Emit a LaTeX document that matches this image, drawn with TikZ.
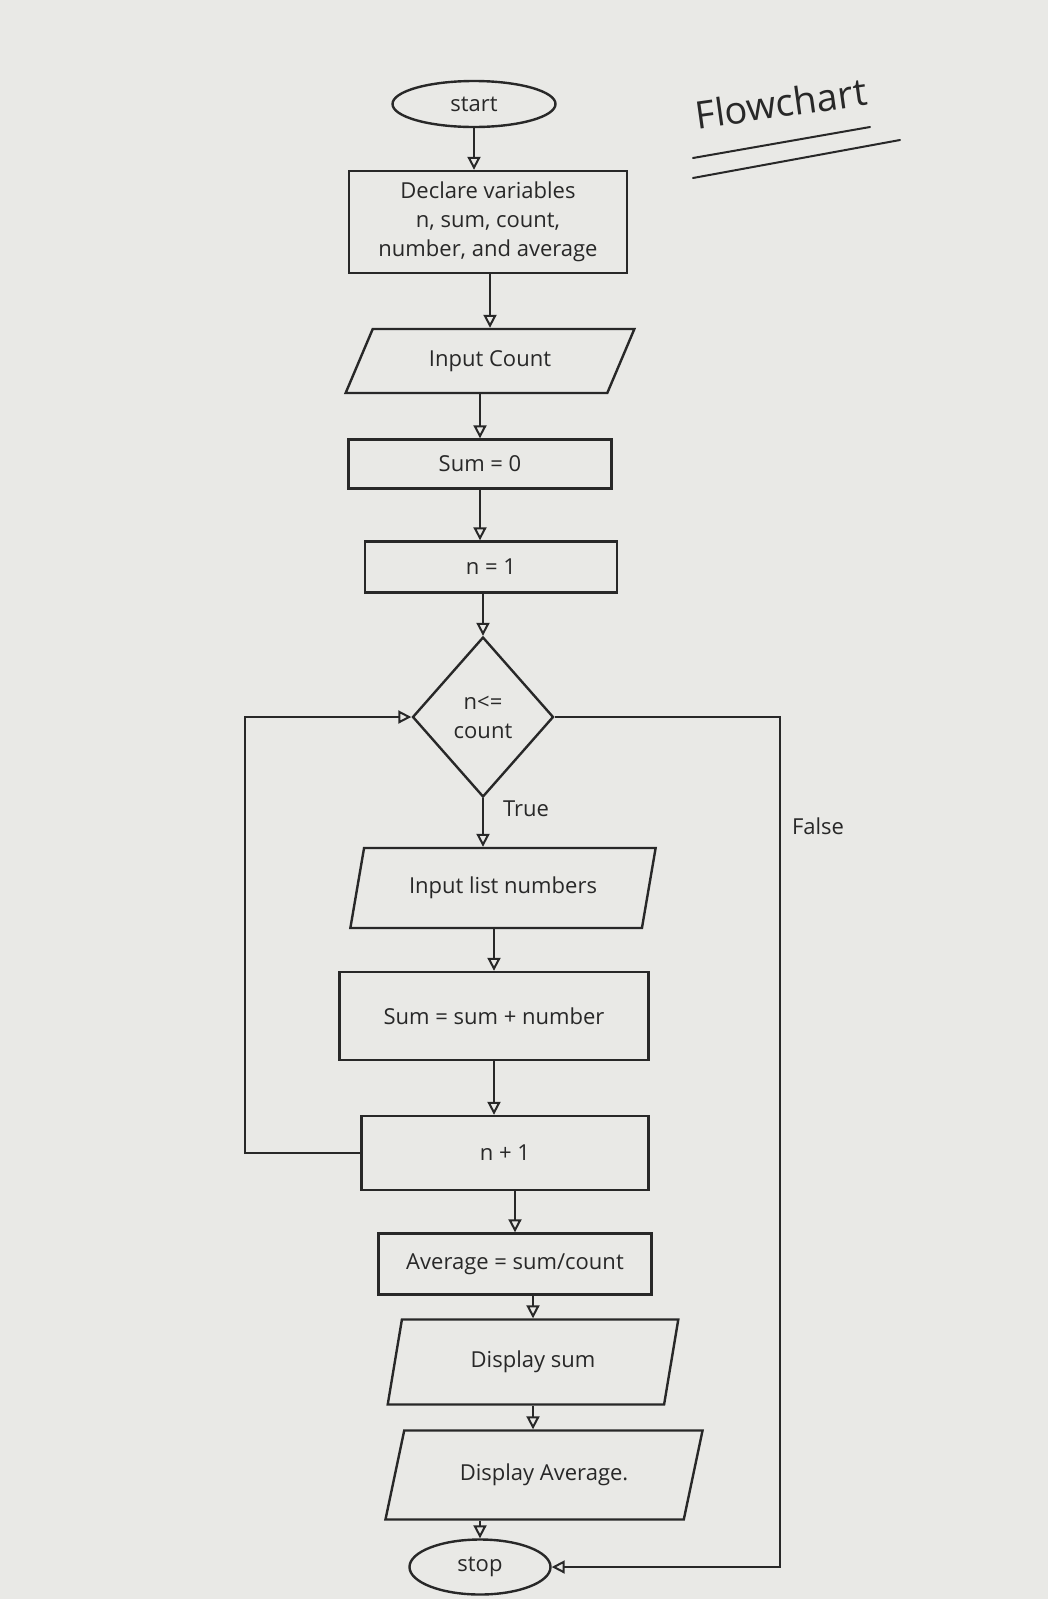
\documentclass[tikz,border=0pt]{standalone}
\usepackage{fontspec}
\setmainfont{Open Sans}
\usetikzlibrary{shapes.geometric,arrows.meta,calc}
\definecolor{paper}{RGB}{233,233,230}
\definecolor{ink}{RGB}{40,40,40}
\begin{document}
\begin{tikzpicture}[x=1pt,y=-1pt,
  every node/.style={font=\fontsize{22}{29}\selectfont, text=ink},
  shp/.style={draw=ink, line width=2.4pt, inner sep=2pt},
  box/.style={shp, rectangle},
  oval/.style={shp, ellipse},
  para/.style={shp, trapezium, trapezium stretches=true,
     trapezium left angle=#1, trapezium right angle=180-#1},
  para/.default=65,
  dia/.style={shp, diamond, inner sep=0pt},
  arr/.style={draw=ink, line width=2pt, -{Triangle[open,length=13pt,width=13pt]}},
  lbl/.style={font=\fontsize{22}{26}\selectfont},
  ttl/.style={font=\fontsize{38}{40}\selectfont}]
\fill[paper] (0,0) rectangle (1048,1599);
\useasboundingbox (0,0) rectangle (1048,1599);

% title
\node[ttl, rotate=8] (title) at (781,103) {Flowchart};
\draw[ink, line width=2pt, line cap=round] (693,158) -- (870,127);
\draw[ink, line width=2pt, line cap=round] (693,178) -- (900,140);

% nodes
\node[oval, minimum width=163, minimum height=46] (start) at (474,104) {start};
\node[box, minimum width=278, minimum height=102, align=center] (decl) at (488,222)
  {Declare variables\\ n, sum, count,\\ number, and average};
\node[para=60, minimum width=289, minimum height=64] (inp) at (490,361) {Input Count};
\node[box, minimum width=263, minimum height=49] (s0) at (480,464) {Sum = 0};
\node[box, minimum width=252, minimum height=51] (n1) at (491,567) {n = 1};
\node[dia, minimum width=141, minimum height=160, align=center] (cond) at (483,717) {n<=\\count};
\node[para=70, minimum width=306, minimum height=80] (inl) at (503,888) {Input list numbers};
\node[box, minimum width=309, minimum height=88] (sum) at (494,1016) {Sum = sum + number};
\node[box, minimum width=287, minimum height=74] (inc) at (505,1153) {n + 1};
\node[box, minimum width=273, minimum height=61] (avg) at (515,1264) {Average = sum/count};
\node[para=75, minimum width=291, minimum height=85] (dsum) at (533,1362) {Display sum};
\node[para=66, minimum width=318, minimum height=89] (davg) at (544,1475) {Display Average.};
\node[oval, minimum width=141, minimum height=55] (stop) at (480,1567) {stop};

% labels
\node[lbl] (true) at (526,809) {True};
\node[lbl] (false) at (818,826) {False};

% connectors
\draw[arr] (start.south) -- (start.south |- decl.north);
\draw[arr] (decl.south -| inp.north) -- (inp.north);
\draw[arr] (inp.south -| s0.north) -- (s0.north);
\draw[arr] (s0.south) -- (s0.south |- n1.north);
\draw[arr] (n1.south -| cond.north) -- (cond.north);
\draw[arr] (cond.south) -- (cond.south |- inl.north);
\draw[arr] (inl.south -| sum.north) -- (sum.north);
\draw[arr] (sum.south) -- (sum.south |- inc.north);
\draw[arr] (inc.south -| avg.north) -- (avg.north);
\draw[arr] (avg.south -| dsum.north) -- (dsum.north);
\draw[arr] (dsum.south) -- (dsum.south |- davg.north);
\draw[arr] (davg.south -| stop.north) -- (stop.north);

% loop back
\coordinate (L) at (245,717);
\draw[arr] (inc.west) -- (inc.west -| L) -- (L |- cond.west) -- (cond.west);

% false branch
\coordinate (R) at (780,717);
\draw[arr] (cond.east) -- (cond.east -| R) -- (R |- stop.east) -- (stop.east);
\end{tikzpicture}
\end{document}
